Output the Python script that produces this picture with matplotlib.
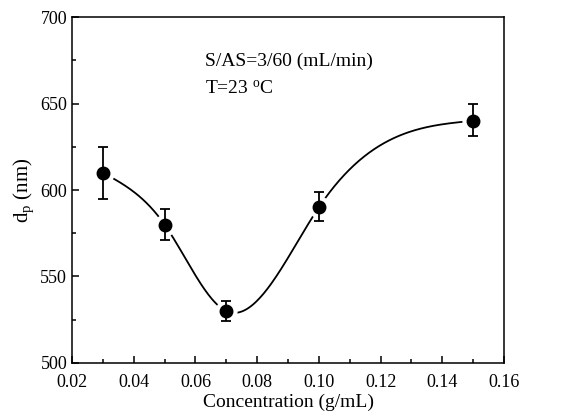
import numpy as np
import matplotlib
matplotlib.use("Agg")
from matplotlib import pyplot as plt
from matplotlib.ticker import MultipleLocator

plt.rcParams['font.family'] = ['Liberation Serif', 'DejaVu Serif']
plt.rcParams['mathtext.fontset'] = 'custom'
plt.rcParams['mathtext.rm'] = 'Liberation Serif'
plt.rcParams['mathtext.it'] = 'Liberation Serif:italic'

conc = [0.03, 0.05, 0.07, 0.10, 0.15]
dp = [610, 580, 530, 590, 640]
err_lo = [15, 9, 6, 8, 9]
err_hi = [15, 9, 6, 9, 10]


def natural_spline(x, y, n=300):
    # plain natural cubic spline, the kind the original plot used to join the points
    x = np.asarray(x, float)
    y = np.asarray(y, float)
    h = np.diff(x)
    m = len(x)
    A = np.zeros((m, m))
    b = np.zeros(m)
    A[0, 0] = A[-1, -1] = 1
    for i in range(1, m - 1):
        A[i, i - 1] = h[i - 1]
        A[i, i] = 2 * (h[i - 1] + h[i])
        A[i, i + 1] = h[i]
        b[i] = 6 * ((y[i + 1] - y[i]) / h[i] - (y[i] - y[i - 1]) / h[i - 1])
    M = np.linalg.solve(A, b)
    xs = np.linspace(x[0], x[-1], n)
    k = np.clip(np.searchsorted(x, xs) - 1, 0, m - 2)
    t0 = x[k + 1] - xs
    t1 = xs - x[k]
    hk = h[k]
    ys = (M[k] * t0**3 + M[k + 1] * t1**3) / (6 * hk) \
        + (y[k] / hk - M[k] * hk / 6) * t0 + (y[k + 1] / hk - M[k + 1] * hk / 6) * t1
    return xs, ys


fig = plt.figure(figsize=(5.64, 4.18), dpi=100)
ax = fig.add_axes([0.1277, 0.1316, 0.7659, 0.8277])

xs, ys = natural_spline(conc, dp)
ax.plot(xs, ys, color='black', lw=1.3, zorder=1)

ax.plot(conc, dp, 'o', color='white', markersize=15, zorder=2)
ax.errorbar(conc, dp, yerr=[err_lo, err_hi], fmt='o', color='black',
            markersize=9, capsize=3.5, elinewidth=1.3, capthick=1.3, zorder=3)

ax.set_xlim(0.02, 0.16)
ax.set_ylim(500, 700)
ax.xaxis.set_major_locator(MultipleLocator(0.02))
ax.xaxis.set_minor_locator(MultipleLocator(0.01))
ax.yaxis.set_major_locator(MultipleLocator(50))
ax.yaxis.set_minor_locator(MultipleLocator(25))
ax.set_xticklabels(['%.2f' % v for v in ax.get_xticks()])
ax.tick_params(which='both', direction='in', top=False, right=False, labelsize=13, width=1.1)
ax.tick_params(which='major', length=5)
ax.tick_params(which='minor', length=3)
ax.tick_params(axis='x', pad=8)
for s in ax.spines.values():
    s.set_linewidth(1.1)

ax.set_xlabel('Concentration (g/mL)', fontsize=14, labelpad=2)
ax.set_ylabel(r'd$_\mathrm{p}$ (nm)', fontsize=15, labelpad=3)

ax.text(0.0631, 672, 'S/AS=3/60 (mL/min)', fontsize=14)
ax.text(0.0631, 655.5, r'T=23 $^\mathrm{o}$C', fontsize=14)

fig.savefig('out.png', dpi=100)
